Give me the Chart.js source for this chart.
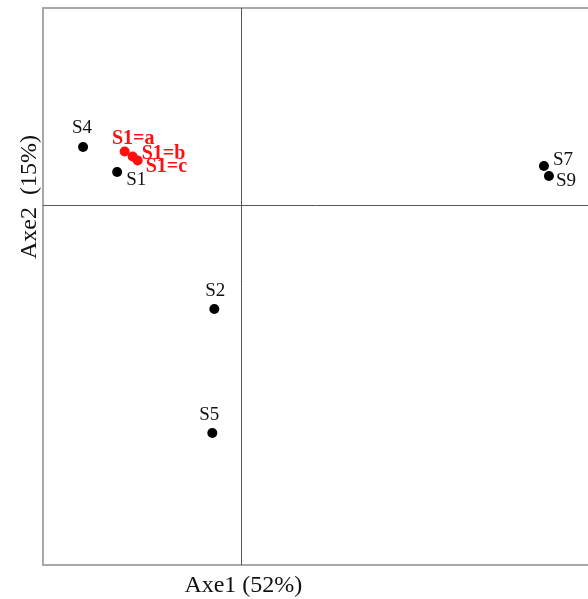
<!DOCTYPE html>
<html>
<head>
<meta charset="utf-8">
<script src="https://cdn.jsdelivr.net/npm/chart.js@4.4.1/dist/chart.umd.min.js"></script>
<style>
  html, body { margin: 0; padding: 0; background: #fff; overflow: hidden; }
  canvas { display: block; }
</style>
</head>
<body>
<canvas id="myChart" width="588" height="599"></canvas>
<script>
// sample scores on the first two axes
const sampleNames = ['S4', 'S1', 'S7', 'S9', 'S2', 'S5'];
const sampleAxe1 = [-1.58, -1.24, 3.02, 3.07, -0.27, -0.29];
const sampleAxe2 = [0.58, 0.33, 0.39, 0.29, -1.04, -2.28];
// replicates of S1
const repNames = ['S1=a', 'S1=b', 'S1=c'];
const repAxe1 = [-1.165, -1.085, -1.035];
const repAxe2 = [0.535, 0.485, 0.445];

const axe1Title = 'Axe1 (52%)';
const axe2Title = 'Axe2  (15%)';

// label placement: [dx, dy, align] relative to the dot
const sampleLabelPos = [[-1, -14, 'center'], [9, 13, 'left'], [9, -1, 'left'], [7, 10, 'left'], [1, -13, 'center'], [-3, -13, 'center']];
const repLabelPos = [[8.5, -8, 'center'], [9, 2, 'left'], [8, 11, 'left']];

const toPoints = (xs, ys) => xs.map((x, i) => ({ x: x, y: ys[i] }));

const pcaPlugin = {
    id: 'pcaPlugin',
    beforeDatasetsDraw(chart) {
        const ctx = chart.ctx;
        const a = chart.chartArea;
        const xs = chart.scales.x, ys = chart.scales.y;
        const x0 = Math.round(xs.getPixelForValue(0)) + 0.5;
        const y0 = Math.round(ys.getPixelForValue(0)) + 0.5;
        ctx.save();
        // frame (right side falls outside the picture)
        ctx.strokeStyle = '#a8a8a8';
        ctx.lineWidth = 2;
        ctx.beginPath();
        ctx.moveTo(chart.width + 5, a.top);
        ctx.lineTo(a.left, a.top);
        ctx.lineTo(a.left, a.bottom);
        ctx.lineTo(chart.width + 5, a.bottom);
        ctx.stroke();
        // origin lines
        ctx.strokeStyle = '#555';
        ctx.lineWidth = 1;
        ctx.beginPath();
        ctx.moveTo(x0, a.top); ctx.lineTo(x0, a.bottom);
        ctx.moveTo(a.left, y0); ctx.lineTo(chart.width, y0);
        ctx.stroke();
        // axis titles
        ctx.fillStyle = '#111';
        ctx.font = '24px "Liberation Serif", "Times New Roman", serif';
        ctx.textAlign = 'center';
        ctx.textBaseline = 'alphabetic';
        ctx.fillText(axe1Title, xs.getPixelForValue(0) + 2, 592);
        ctx.translate(36, ys.getPixelForValue(0) - 8);
        ctx.rotate(-Math.PI / 2);
        ctx.fillText(axe2Title, 0, 0);
        ctx.restore();
    },
    afterDatasetsDraw(chart) {
        const ctx = chart.ctx;
        const drawLabels = (dsIndex, names, pos, font, color) => {
            const meta = chart.getDatasetMeta(dsIndex);
            ctx.font = font;
            ctx.fillStyle = color;
            ctx.textBaseline = 'alphabetic';
            meta.data.forEach(function (pt, i) {
                ctx.textAlign = pos[i][2];
                ctx.fillText(names[i], pt.x + pos[i][0], pt.y + pos[i][1]);
            });
        };
        ctx.save();
        drawLabels(0, sampleNames, sampleLabelPos, '19px "Liberation Serif", "Times New Roman", serif', '#111');
        drawLabels(1, repNames, repLabelPos, 'bold 20px "Liberation Serif", "Times New Roman", serif', '#ff1010');
        ctx.restore();
    }
};

const config = {
    type: 'scatter',
    data: {
        datasets: [{
            label: 'samples',
            data: toPoints(sampleAxe1, sampleAxe2),
            pointRadius: 5,
            pointBackgroundColor: '#000',
            pointBorderWidth: 0
        }, {
            label: 'S1 replicates',
            data: toPoints(repAxe1, repAxe2),
            pointRadius: 5,
            pointBackgroundColor: '#ff1010',
            pointBorderWidth: 0
        }]
    },
    options: {
        responsive: false,
        animation: false,
        layout: { padding: { left: 43, top: 8, bottom: 34, right: 1 } },
        plugins: { legend: { display: false }, tooltip: { enabled: false } },
        scales: {
            x: { display: false, min: -1.98, max: 3.41 },
            y: { display: false, min: -3.60, max: 1.97 }
        }
    },
    plugins: [pcaPlugin]
};

const chart = new Chart(document.getElementById('myChart'), config);
</script>
</body>
</html>
